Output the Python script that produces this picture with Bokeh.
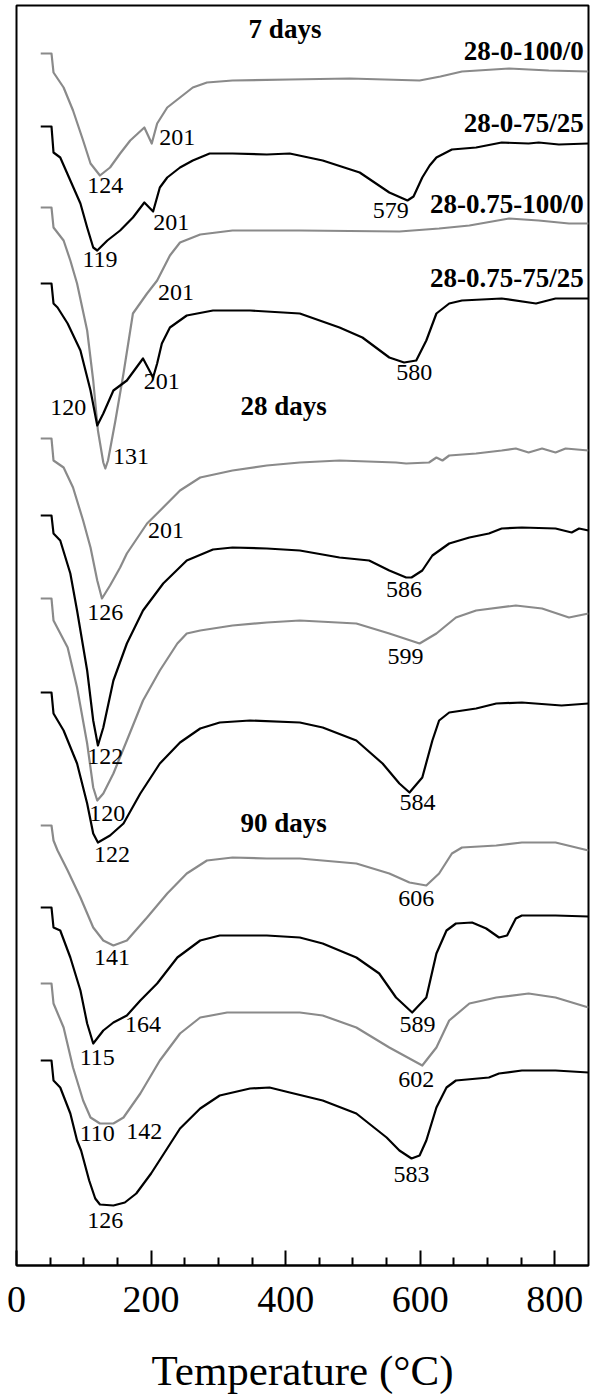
from bokeh.plotting import figure
from bokeh.models import Range1d, FixedTicker
from bokeh.core.properties import value
from bokeh.embed import file_html
from bokeh.resources import INLINE

# ---------------- data (temperature in °C, signal in arbitrary stacked units) ----------------
series_names = ["28-0-100/0", "28-0-75/25", "28-0.75-100/0", "28-0.75-75/25"]
age_labels = ["7 days", "28 days", "90 days"]

# 7 days
t_07_a = [36, 52, 55, 70, 84, 99, 110, 124, 139, 154, 169, 190, 201, 209, 224, 243, 262, 283, 321, 406, 495, 599, 630, 662, 732, 791, 850]
s_07_a = [1212, 1212, 1193, 1178, 1155, 1125, 1102, 1090, 1098, 1112, 1125, 1138, 1122, 1142, 1158, 1168, 1178, 1183, 1185, 1186, 1187, 1185, 1189, 1194, 1197, 1195, 1194]

t_07_b = [36, 52, 55, 65, 80, 95, 105, 114, 120, 135, 154, 173, 190, 203, 213, 224, 243, 262, 287, 321, 372, 406, 455, 510, 554, 581, 590, 603, 614, 624, 647, 683, 721, 761, 776, 806, 850]
s_07_b = [1139, 1139, 1113, 1108, 1085, 1062, 1038, 1018, 1015, 1025, 1035, 1048, 1063, 1054, 1078, 1088, 1098, 1105, 1112, 1112, 1111, 1112, 1105, 1093, 1073, 1065, 1069, 1088, 1100, 1108, 1116, 1118, 1123, 1122, 1123, 1121, 1122]

t_07_c = [36, 52, 55, 70, 80, 90, 105, 114, 121, 129, 132, 136, 147, 159, 173, 194, 209, 228, 243, 273, 321, 421, 569, 628, 673, 732, 776, 821, 850]
s_07_c = [1058, 1058, 1038, 1025, 1005, 982, 935, 885, 835, 803, 797, 805, 845, 892, 952, 972, 985, 1010, 1023, 1031, 1035, 1035, 1034, 1037, 1040, 1047, 1045, 1042, 1042]

t_07_d = [36, 52, 55, 61, 76, 95, 110, 120, 129, 144, 164, 188, 203, 209, 216, 228, 253, 292, 347, 421, 480, 514, 554, 576, 594, 609, 624, 643, 662, 721, 772, 801, 850]
s_07_d = [982, 982, 962, 958, 942, 915, 875, 840, 852, 875, 885, 907, 888, 902, 922, 938, 950, 955, 955, 952, 938, 928, 908, 903, 905, 925, 952, 962, 965, 967, 962, 967, 967]

# 28 days
t_28_a = [36, 52, 55, 70, 84, 99, 110, 120, 127, 139, 154, 164, 194, 209, 243, 273, 321, 372, 421, 480, 564, 579, 613, 624, 633, 643, 683, 721, 742, 761, 781, 801, 816, 850]
s_28_a = [827, 827, 805, 798, 778, 745, 718, 685, 667, 680, 698, 712, 742, 752, 775, 788, 795, 800, 803, 805, 803, 802, 803, 808, 805, 810, 812, 815, 817, 813, 817, 813, 817, 815]

t_28_b = [36, 52, 55, 65, 80, 90, 105, 114, 121, 129, 144, 164, 188, 218, 253, 292, 321, 372, 421, 480, 524, 554, 579, 587, 603, 618, 643, 673, 702, 721, 751, 801, 825, 836, 850]
s_28_b = [750, 750, 732, 725, 692, 655, 595, 545, 520, 538, 585, 622, 655, 682, 705, 716, 718, 717, 715, 708, 705, 695, 688, 688, 695, 710, 722, 728, 732, 737, 738, 737, 733, 737, 735]

t_28_c = [36, 52, 55, 76, 90, 105, 114, 120, 129, 144, 164, 188, 213, 239, 253, 273, 321, 372, 421, 505, 554, 599, 624, 653, 683, 742, 781, 821, 850]
s_28_c = [667, 667, 645, 618, 578, 522, 478, 465, 472, 492, 525, 565, 595, 622, 632, 635, 640, 643, 645, 642, 632, 622, 632, 648, 655, 660, 657, 648, 652]

t_28_d = [36, 52, 55, 70, 90, 105, 114, 121, 139, 159, 184, 213, 243, 273, 302, 347, 421, 455, 505, 544, 569, 584, 603, 618, 628, 643, 683, 713, 751, 810, 850]
s_28_d = [573, 573, 552, 535, 502, 462, 432, 423, 430, 442, 472, 502, 523, 537, 543, 545, 543, 538, 525, 502, 482, 473, 488, 525, 545, 553, 557, 562, 563, 560, 562]

# 90 days
t_90_a = [36, 52, 55, 61, 76, 95, 114, 129, 144, 164, 194, 224, 253, 283, 321, 372, 421, 505, 554, 584, 609, 628, 647, 662, 713, 751, 801, 850]
s_90_a = [440, 440, 425, 415, 395, 368, 338, 325, 320, 325, 348, 372, 392, 405, 408, 407, 407, 402, 392, 383, 380, 392, 412, 418, 420, 423, 423, 415]

t_90_b = [36, 52, 55, 65, 80, 95, 105, 114, 129, 144, 164, 184, 209, 239, 273, 302, 372, 421, 455, 505, 539, 564, 588, 609, 624, 639, 653, 677, 698, 717, 729, 742, 751, 801, 850]
s_90_b = [358, 358, 338, 335, 308, 275, 242, 222, 235, 243, 250, 265, 282, 308, 325, 330, 330, 328, 322, 308, 292, 268, 253, 268, 312, 335, 342, 343, 337, 328, 330, 347, 350, 350, 349]

t_90_c = [36, 52, 55, 70, 84, 99, 110, 124, 144, 159, 184, 213, 243, 273, 313, 372, 421, 455, 505, 554, 603, 624, 643, 673, 713, 761, 801, 850]
s_90_c = [282, 282, 262, 238, 198, 165, 148, 142, 142, 148, 172, 205, 232, 248, 253, 253, 253, 250, 238, 218, 200, 218, 245, 262, 268, 272, 268, 258]

t_90_d = [36, 52, 55, 65, 80, 90, 96, 108, 117, 124, 144, 161, 178, 200, 222, 243, 273, 302, 347, 376, 406, 455, 505, 550, 569, 587, 599, 609, 624, 639, 653, 702, 717, 751, 801, 850]
s_90_d = [205, 205, 185, 178, 152, 125, 115, 85, 67, 61, 60, 63, 72, 92, 115, 137, 157, 170, 177, 178, 173, 165, 152, 128, 115, 107, 110, 125, 158, 178, 185, 188, 192, 195, 195, 193]

# peak labels
peak_text = ["124", "201", "119", "201", "579", "201", "120", "131", "201", "580",
             "126", "201", "586", "122", "599", "120", "584",
             "122", "606", "141", "115", "164", "589", "110", "142", "602", "126", "583"]
peak_t = [132, 239, 124, 230, 556, 237, 77, 170, 216, 591,
          132, 222, 576, 132, 578, 135, 596,
          142, 594, 142, 120, 188, 596, 120, 190, 594, 132, 587]
peak_s = [1080, 1128, 1006, 1043, 1055, 973, 858, 809, 884, 893,
          653, 735, 676, 509, 609, 452, 463,
          411, 367, 308, 208, 241, 241, 132, 134, 186, 45, 91]

# ---------------- figure ----------------
p = figure(width=593, height=1399, output_backend="svg", toolbar_location=None,
           x_range=Range1d(0, 850), y_range=Range1d(0, 1260),
           y_axis_location=None,
           min_border_left=16, min_border_right=5, min_border_top=5, min_border_bottom=134)
p.xgrid.visible = False
p.ygrid.visible = False
p.outline_line_color = "black"
p.outline_line_width = 2
p.background_fill_color = "white"
p.border_fill_color = "white"

GRAY = "#8a8a8a"
BLACK = "#000000"
curves = [
    (t_07_a, s_07_a, GRAY), (t_07_b, s_07_b, BLACK), (t_07_c, s_07_c, GRAY), (t_07_d, s_07_d, BLACK),
    (t_28_a, s_28_a, GRAY), (t_28_b, s_28_b, BLACK), (t_28_c, s_28_c, GRAY), (t_28_d, s_28_d, BLACK),
    (t_90_a, s_90_a, GRAY), (t_90_b, s_90_b, BLACK), (t_90_c, s_90_c, GRAY), (t_90_d, s_90_d, BLACK),
]
for t, s, c in curves:
    p.line(t, s, line_color=c, line_width=2.2, line_join="round")

SERIF = value("Liberation Serif")

# peak labels
p.text(x=peak_t, y=peak_s, text=peak_text, text_font=SERIF, text_font_size="24px",
       text_align="center", text_baseline="middle", text_color="black")

# series names (right aligned near right edge)
p.text(x=[843] * 4, y=[1215, 1143, 1062, 988], text=series_names, text_font=SERIF,
       text_font_size="27px", text_font_style="bold", text_align="right",
       text_baseline="middle", text_color="black")

# age labels
p.text(x=[399, 397, 397], y=[1237, 860, 443], text=age_labels, text_font=SERIF,
       text_font_size="27px", text_font_style="bold", text_align="center",
       text_baseline="middle", text_color="black")

# x axis
ax = p.xaxis[0]
ax.ticker = FixedTicker(ticks=[0, 200, 400, 600, 800],
                        minor_ticks=[50, 100, 150, 250, 300, 350, 450, 500, 550, 650, 700, 750])
ax.axis_line_width = 2
ax.axis_line_color = "black"
ax.major_tick_in = 15
ax.major_tick_out = 0
ax.minor_tick_in = 8
ax.minor_tick_out = 0
ax.major_tick_line_width = 2
ax.minor_tick_line_width = 2
ax.major_label_text_font = "Liberation Serif"
ax.major_label_text_font_size = "38px"
ax.major_label_text_color = "black"
ax.major_label_standoff = 21
ax.axis_label = "Temperature (°C)"
ax.axis_label_text_font = "Liberation Serif"
ax.axis_label_text_font_size = "43px"
ax.axis_label_text_font_style = "normal"
ax.axis_label_text_color = "black"
ax.axis_label_standoff = 32

open("out.html", "w").write(file_html(p, INLINE))
